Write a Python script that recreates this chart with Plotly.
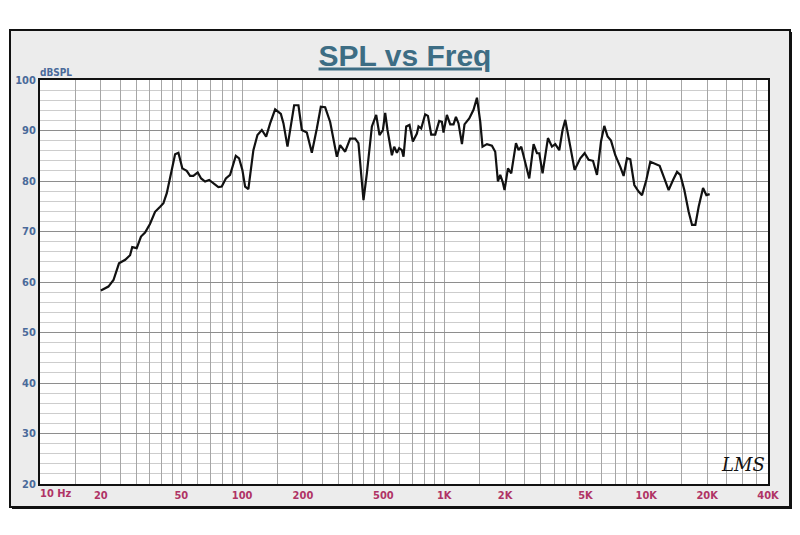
import math
import plotly.graph_objects as go

# ---- data ----
freq_hz = [20.0, 21.8, 23.1, 24.6, 26.4, 27.9, 28.6, 30.1, 31.6, 33.1,
           35.0, 37.1, 39.3, 40.8, 42.4, 44.5, 46.6, 48.4, 50.6, 53.2,
           55.3, 57.4, 60.3, 62.7, 65.6, 68.7, 72.1, 76.3, 79.3, 83.1,
           87.2, 90.5, 93.1, 96.6, 100.3, 103.5, 107.4, 113.7, 119.1, 125.2,
           131.5, 137.6, 145.7, 155.5, 160.2, 167.7, 172.9, 180.9, 190.0, 197.5,
           209.0, 221.3, 234.3, 245.2, 257.6, 272.7, 294.3, 305.5, 323.5, 342.5,
           362.6, 376.4, 398.6, 414.3, 438.7, 460.8, 478.4, 497.3, 510.5, 524.1,
           551.0, 565.6, 583.2, 598.8, 617.5, 628.9, 648.6, 673.4, 699.8, 732.6,
           746.1, 769.2, 805.1, 830.5, 862.3, 902.6, 944.6, 974.0, 992.0, 1031,
           1071, 1112, 1143, 1177, 1224, 1260, 1330, 1396, 1452, 1508,
           1547, 1627, 1722, 1788, 1844, 1893, 1944, 1988, 2067, 2146,
           2265, 2333, 2406, 2498, 2635, 2768, 2877, 2954, 3067, 3261,
           3413, 3543, 3709, 3851, 3972, 4206, 4416, 4714, 4950, 5182,
           5446, 5700, 5966, 6195, 6432, 6687, 7023, 7435, 7719, 8025,
           8332, 8722, 9161, 9521, 10000, 10466, 11081, 11637, 12277, 12894,
           13559, 14191, 14733, 15421, 16198, 16836, 17483, 18152, 19085, 19816,
           20576]

spl_db = [58.3, 59.1, 60.4, 63.7, 64.4, 65.3, 66.9, 66.7, 69.0, 69.8,
          71.5, 73.9, 74.9, 75.6, 77.6, 81.5, 85.3, 85.6, 82.5, 82.0,
          81.0, 81.0, 81.7, 80.5, 79.9, 80.2, 79.5, 78.8, 78.9, 80.5,
          81.2, 83.2, 85.0, 84.5, 82.2, 78.9, 78.4, 86.1, 89.1, 90.1,
          88.8, 91.4, 94.2, 93.3, 91.4, 86.8, 90.1, 95.0, 95.0, 90.1,
          89.6, 85.6, 90.4, 94.7, 94.6, 91.7, 84.8, 87.1, 85.8, 88.4,
          88.4, 87.5, 76.2, 81.5, 90.8, 93.1, 89.1, 90.1, 93.5, 90.1,
          85.1, 86.8, 85.6, 86.5, 86.1, 84.8, 90.8, 91.1, 87.8, 89.4,
          90.8, 90.4, 93.2, 92.9, 89.2, 89.2, 91.9, 91.7, 89.6, 93.1,
          91.2, 91.2, 92.7, 91.4, 87.3, 91.2, 92.4, 94.1, 96.5, 91.7,
          86.8, 87.3, 87.0, 85.8, 79.9, 81.2, 79.9, 78.2, 82.5, 81.5,
          87.5, 86.1, 86.8, 84.2, 80.5, 87.3, 85.5, 85.5, 81.5, 88.5,
          86.8, 87.3, 86.1, 90.1, 92.1, 86.8, 82.2, 84.5, 85.5, 84.2,
          84.0, 81.2, 87.8, 90.9, 88.8, 88.0, 85.1, 82.8, 81.0, 84.5,
          84.3, 79.2, 77.9, 77.2, 80.2, 83.8, 83.4, 83.0, 80.5, 78.2,
          80.2, 81.8, 81.2, 78.2, 73.9, 71.3, 71.3, 74.9, 78.6, 77.2,
          77.4]

x_label_vals = [10, 20, 50, 100, 200, 500, 1000, 2000, 5000, 10000, 20000, 40000]
x_label_text = ["10 Hz", "20", "50", "100", "200", "500",
                "1K", "2K", "5K", "10K", "20K", "40K"]
grid_mantissas = [1, 1.5, 2, 2.5, 3, 3.5, 4, 4.5, 5, 6, 7, 8, 9]
grid_decades = [10, 100, 1000, 10000]
y_ticks = [20, 30, 40, 50, 60, 70, 80, 90, 100]

X_MIN, X_MAX = 10, 40000

# grid positions on the frequency axis
grid_vals = []
for d in grid_decades:
    for m in grid_mantissas:
        v = d * m
        if v <= X_MAX and v not in grid_vals:
            grid_vals.append(v)
grid_vals.append(X_MAX)
label_map = dict(zip(x_label_vals[1:], x_label_text[1:]))  # first label is left-aligned below
tickvals = grid_vals
ticktext = [label_map.get(v, "") for v in grid_vals]

fig = go.Figure()
fig.add_trace(go.Scatter(x=freq_hz, y=spl_db, mode="lines",
                         line=dict(color="#111111", width=2.2),
                         showlegend=False, hoverinfo="skip"))

# plot area in pixels: x 40..768, y 80..484
L, R, T, B = 40, 32, 80, 51
PW, PH = 800 - L - R, 535 - T - B


def px(xp):
    return (xp - L) / PW


def py(yp):
    return (535 - B - yp) / PH


NARROW = "Liberation Sans Narrow, Arial Narrow, DejaVu Sans Condensed, Liberation Sans, sans-serif"

shapes = [
    # shadow of outer panel
    dict(type="rect", xref="paper", yref="paper", x0=px(12), x1=px(792), y0=py(509), y1=py(32),
         fillcolor="#111111", line=dict(width=0), layer="below"),
    # outer panel
    dict(type="rect", xref="paper", yref="paper", x0=px(10), x1=px(790), y0=py(507), y1=py(30),
         fillcolor="#ececec", line=dict(color="#111111", width=2), layer="below"),
    # plot background
    dict(type="rect", xref="paper", yref="paper", x0=0, x1=1, y0=0, y1=1,
         fillcolor="white", line=dict(width=0), layer="below"),
]

fig.update_layout(
    width=800, height=535,
    margin=dict(l=L, r=R, t=T, b=B),
    paper_bgcolor="white",
    plot_bgcolor="white",
    shapes=shapes,
    title=dict(text="<u><b>SPL vs Freq</b></u>", x=405 / 800, xanchor="center",
               y=1 - 55 / 535, yanchor="middle",
               font=dict(family="Liberation Sans, Arial, sans-serif",
                         size=30, color="#3d6d84")),
    xaxis=dict(type="log", range=[math.log10(X_MIN), math.log10(X_MAX)],
               tickvals=tickvals, ticktext=ticktext,
               showgrid=True, gridcolor="#a6a6a6", gridwidth=1,
               showline=True, linecolor="#111111", linewidth=2, mirror=True,
               ticks="", zeroline=False,
               tickfont=dict(family=NARROW, size=11, color="#b03365", weight="bold")),
    yaxis=dict(range=[20, 100], tickvals=y_ticks,
               showgrid=True, gridcolor="#8e8e8e", gridwidth=1,
               minor=dict(dtick=2, showgrid=True, gridcolor="#cdcdcd", gridwidth=1),
               showline=True, linecolor="#111111", linewidth=2, mirror=True,
               ticks="", zeroline=False,
               tickfont=dict(family=NARROW, size=11, color="#4a6a9a", weight="bold")),
    annotations=[
        dict(text=x_label_text[0], xref="x", yref="paper", x=math.log10(x_label_vals[0]), y=0,
             xanchor="left", yanchor="top", xshift=-2, yshift=-1, showarrow=False,
             font=dict(family=NARROW, size=11, color="#b03365", weight="bold")),
        dict(text="dBSPL", xref="paper", yref="paper", x=px(56), y=py(72),
             xanchor="center", yanchor="middle", showarrow=False,
             font=dict(family=NARROW, size=10, color="#4a6a9a", weight="bold")),
        dict(text="<i>LMS</i>", xref="paper", yref="paper", x=px(743), y=py(464),
             xanchor="center", yanchor="middle", showarrow=False,
             font=dict(family="DejaVu Serif, serif", size=18, color="#111111")),
    ],
)

fig.write_html("out.html", config={"displayModeBar": False},
               post_script="document.body.style.margin='0';")
